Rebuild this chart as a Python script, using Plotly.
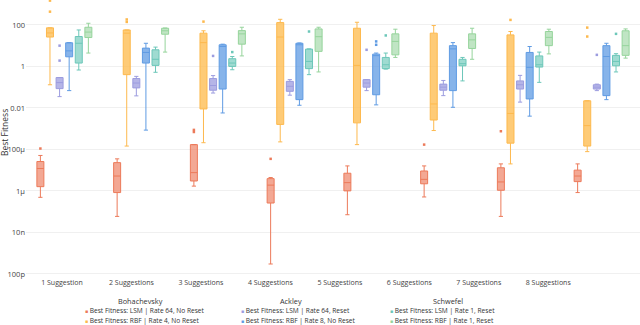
import plotly.graph_objects as go

SUGGESTIONS = ["1 Suggestion", "2 Suggestions", "3 Suggestions", "4 Suggestions",
               "5 Suggestions", "6 Suggestions", "7 Suggestions", "8 Suggestions"]

SERIES = ["Best Fitness: LSM | Rate 64, No Reset", "Best Fitness: RBF | Rate 4, No Reset",
          "Best Fitness: LSM | Rate 64, Reset", "Best Fitness: RBF | Rate 8, No Reset",
          "Best Fitness: LSM | Rate 1, Reset", "Best Fitness: RBF | Rate 1, Reset"]
FUNCTIONS = ["Bohachevsky", "Bohachevsky", "Ackley", "Ackley", "Schwefel", "Schwefel"]

Y_TICKVALS = [1e2, 1, 1e-2, 1e-4, 1e-6, 1e-8, 1e-10]
Y_TICKTEXT = ["100", "1", "0.01", "100μ", "1μ", "10n", "100p"]

# Bohachevsky, LSM | Rate 64, No Reset
boh_lsm_low = [4.9e-7, 5.9e-8, 1.7e-6, 3e-10, 7.1e-8, 5.1e-7, 5.9e-8, 8.3e-7]
boh_lsm_q1 = [1.6e-6, 8.3e-7, 3e-6, 2.6e-7, 1e-6, 2.2e-6, 1.07e-6, 2.8e-6]
boh_lsm_med = [1.2e-5, 5.2e-6, 7.6e-6, 1.9e-6, 2.5e-6, 3.6e-6, 2.7e-6, 5.2e-6]
boh_lsm_q3 = [2.6e-5, 2.3e-5, 1.7e-4, 3.9e-6, 7.1e-6, 9.1e-6, 1.3e-5, 1e-5]
boh_lsm_high = [5.1e-5, 3.5e-5, 1.7e-4, 4.4e-6, 1.6e-5, 1.6e-5, 2e-5, 2e-5]
boh_lsm_out = [[1.1e-4], [], [8.7e-4, 6.9e-4], [3.5e-5], [], [1.7e-4], [7.5e-4], []]

# Bohachevsky, RBF | Rate 4, No Reset
boh_rbf_low = [0.13, 1.45e-4, 2.1e-4, 2.3e-4, 1.7e-4, 8.1e-4, 2e-5, 7.8e-5]
boh_rbf_q1 = [26, 0.4, 0.0089, 0.0016, 0.0019, 0.0026, 2e-4, 1.45e-4]
boh_rbf_med = [41, 40, 14, 26, 1.12, 0.0155, 0.0054, 0.0014]
boh_rbf_q3 = [72, 57, 40, 129, 69, 40, 33, 0.022]
boh_rbf_high = [72, 57, 52, 186, 134, 93, 48, 0.022]
boh_rbf_out = [[434, 1480], [139, 183], [144], [], [], [], [174], [27.5, 74]]

# Ackley, LSM | Rate 64, Reset
ack_lsm_low = [0.035, 0.038, 0.052, 0.041, 0.068, 0.039, 0.019, 0.068]
ack_lsm_q1 = [0.085, 0.092, 0.071, 0.063, 0.1, 0.071, 0.081, 0.081]
ack_lsm_med = [0.166, 0.158, 0.12, 0.11, 0.158, 0.1, 0.13, 0.1]
ack_lsm_q3 = [0.29, 0.26, 0.26, 0.19, 0.23, 0.14, 0.2, 0.13]
ack_lsm_high = [0.29, 0.33, 0.36, 0.23, 0.23, 0.21, 0.37, 0.14]
ack_lsm_out = [[1.9, 10], [], [3.2], [], [6.3], [], [], [3.6]]

# Ackley, RBF | Rate 8, No Reset
ack_rbf_low = [0.068, 8.5e-4, 0.0057, 0.0134, 0.014, 0.0107, 0.004, 0.025]
ack_rbf_q1 = [2.9, 1.45, 0.081, 0.025, 0.043, 0.068, 0.027, 0.039]
ack_rbf_med = [5.6, 4.7, 9.1, 11, 3.3, 7, 0.9, 3.0]
ack_rbf_q3 = [13.7, 7.6, 11, 13, 3.9, 10, 4.7, 10]
ack_rbf_high = [14, 13, 11.8, 13.5, 4.4, 14, 9.1, 13]
ack_rbf_out = [[], [], [], [], [11, 16], [], [], []]

# Schwefel, LSM | Rate 1, Reset
sch_lsm_low = [0.67, 0.52, 0.69, 0.4, 0.74, 0.2, 0.17, 0.54]
sch_lsm_q1 = [1.45, 1.12, 1.0, 0.78, 0.78, 1.07, 0.93, 1.07]
sch_lsm_med = [13, 2.2, 1.45, 1.74, 1.2, 1.35, 1.2, 1.74]
sch_lsm_q3 = [27.5, 6.3, 2.35, 6.8, 2.7, 2.2, 3.2, 3.4]
sch_lsm_high = [57, 8.5, 3.0, 7, 4.4, 2.7, 4.9, 4.1]
sch_lsm_out = [[], [], [4.9], [48], [31], [], [], [37]]

# Schwefel, RBF | Rate 1, Reset
sch_rbf_low = [4.4, 4.9, 3.2, 0.54, 2.7, 2.2, 4, 2.5]
sch_rbf_q1 = [24.6, 35.5, 11.8, 5.3, 3.6, 7.3, 10, 3.4]
sch_rbf_med = [45, 52, 37, 27, 16, 19, 25, 10]
sch_rbf_q3 = [77, 69, 53, 64, 37, 37, 48, 52]
sch_rbf_high = [120, 71, 77, 77, 62, 69, 62, 64]
sch_rbf_out = [[], [], [], [], [], [], [], []]

STATS = [
    (boh_lsm_low, boh_lsm_q1, boh_lsm_med, boh_lsm_q3, boh_lsm_high, boh_lsm_out),
    (boh_rbf_low, boh_rbf_q1, boh_rbf_med, boh_rbf_q3, boh_rbf_high, boh_rbf_out),
    (ack_lsm_low, ack_lsm_q1, ack_lsm_med, ack_lsm_q3, ack_lsm_high, ack_lsm_out),
    (ack_rbf_low, ack_rbf_q1, ack_rbf_med, ack_rbf_q3, ack_rbf_high, ack_rbf_out),
    (sch_lsm_low, sch_lsm_q1, sch_lsm_med, sch_lsm_q3, sch_lsm_high, sch_lsm_out),
    (sch_rbf_low, sch_rbf_q1, sch_rbf_med, sch_rbf_q3, sch_rbf_high, sch_rbf_out),
]

LINE_COLORS = ["#EC7A5A", "#FDB94E", "#9C9CDF", "#5F9BE3", "#6CC7B9", "#96D49C"]
FILL_COLORS = ["rgba(236,122,90,0.65)", "rgba(254,190,85,0.8)", "rgba(156,156,223,0.75)",
               "rgba(95,155,227,0.75)", "rgba(108,199,185,0.65)", "rgba(150,212,156,0.6)"]

FONT = "Open Sans"

fig = go.Figure()
for i, name in enumerate(SERIES):
    low, q1, med, q3, high, out = STATS[i]
    fig.add_trace(go.Box(
        name=name, legendgroup=FUNCTIONS[i], alignmentgroup="a", offsetgroup=str(i),
        x=SUGGESTIONS, q1=q1, median=med, q3=q3, lowerfence=low, upperfence=high,
        boxpoints=False,
        line=dict(color=LINE_COLORS[i], width=1), fillcolor=FILL_COLORS[i],
        whiskerwidth=0.6, showlegend=False, xaxis="x", yaxis="y",
    ))
    # outliers: points only, sharing the box's offset group
    ox = [SUGGESTIONS[k] for k, pts in enumerate(out) for _ in pts]
    oy = [v for pts in out for v in pts]
    if oy:
        fig.add_trace(go.Box(
            name=name, legendgroup=FUNCTIONS[i], alignmentgroup="a", offsetgroup=str(i),
            x=ox, y=oy, boxpoints="all", jitter=0, pointpos=0,
            marker=dict(symbol="square", size=2.5, color=LINE_COLORS[i]),
            line=dict(color="rgba(0,0,0,0)", width=0), fillcolor="rgba(0,0,0,0)",
            whiskerwidth=0, showlegend=False, hoverinfo="y", xaxis="x", yaxis="y",
        ))

# category axis used only for the tick labels (own invisible y axis, no background)
fig.add_trace(go.Scatter(x=SUGGESTIONS, y=[None] * len(SUGGESTIONS), xaxis="x2", yaxis="y2",
                         mode="markers", showlegend=False, hoverinfo="skip"))

L, R, T, B = 26, 0, 0, 48
W, H = 640, 325
PW, PH = W - L - R, H - T - B


def px(x):
    return (x - L) / PW


def py(y):
    return (H - B - y) / PH


annotations = []
# y-axis title
annotations.append(dict(text="Best Fitness", x=px(4), y=py(133), xref="paper", yref="paper",
                        textangle=-90, showarrow=False, font=dict(family=FONT, size=8.5, color="#333"),
                        xanchor="center", yanchor="middle"))
# custom legend: grouped in columns
groups = ["Bohachevsky", "Ackley", "Schwefel"]
title_x = [140, 291, 448]
item_x = [83, 239, 388]
for g, grp in enumerate(groups):
    annotations.append(dict(text=grp, x=px(title_x[g]), y=py(301), xref="paper", yref="paper",
                            showarrow=False, xanchor="center", yanchor="middle",
                            font=dict(family=FONT, size=7.3, color="#333")))
    members = [k for k, f in enumerate(FUNCTIONS) if f == grp]
    for r, k in enumerate(members):
        annotations.append(dict(
            text=f"<span style='color:{LINE_COLORS[k]};font-size:5px'>■</span> {SERIES[k]}",
            x=px(item_x[g]), y=py(310 + 10 * r), xref="paper", yref="paper",
            showarrow=False, xanchor="left", yanchor="middle",
            font=dict(family=FONT, size=6.6, color="#333")))

fig.update_layout(
    width=W, height=H, margin=dict(l=L, r=R, t=T, b=B),
    paper_bgcolor="white", plot_bgcolor="rgba(0,0,0,0)",
    boxmode="group", boxgap=0.25, boxgroupgap=0.27,
    font=dict(family=FONT, color="#444"),
    showlegend=False,
    xaxis=dict(type="category", categoryorder="array", categoryarray=SUGGESTIONS,
               range=[-0.5, 7.5], showticklabels=False, showgrid=False,
               zeroline=False, showline=False, ticks="", domain=[0, 1]),
    xaxis2=dict(type="category", range=[-0.5, 7.5], anchor="y2", showgrid=False, zeroline=False,
                showline=False, ticks="", domain=[px(27.25), px(583)],
                tickfont=dict(family=FONT, size=7, color="#444")),
    yaxis=dict(type="log", range=[-10.15, 3.2], tickmode="array", tickvals=Y_TICKVALS,
               ticktext=Y_TICKTEXT, showgrid=True, gridcolor="#f0f0f0", gridwidth=1,
               zeroline=False, showline=False, ticks="", anchor="x",
               tickfont=dict(family=FONT, size=7.5, color="#444")),
    yaxis2=dict(anchor="x2", domain=[0, 1], range=[0, 1], visible=False, showgrid=False,
                zeroline=False),
    annotations=annotations,
)

fig.write_html("out.html", config={"displayModeBar": False},
               post_script="document.body.style.margin='0px';")
